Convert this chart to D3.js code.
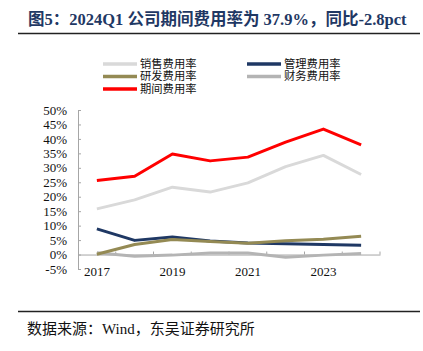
<!DOCTYPE html>
<html>
<head>
<meta charset="utf-8">
<script src="https://cdn.jsdelivr.net/npm/d3@7"></script>
<style>
  body { margin: 0; background: #fff; }
  svg { display: block; }
  .serif { font-family: "Liberation Serif", "Noto Sans CJK SC", serif; }
</style>
</head>
<body>
<svg id="chart"></svg>
<script>
var svgWidth = 423;
var svgHeight = 351;

// data
var years = ["2017", "2018", "2019", "2020", "2021", "2022", "2023", "2024Q1"];
var tickYears = ["2017", "2019", "2021", "2023"];
var sales = [15.8, 18.9, 23.3, 21.6, 24.8, 30.4, 34.3, 27.7];   // 销售费用率
var admin = [8.9, 4.9, 6.1, 4.7, 4.0, 3.7, 3.5, 3.2];           // 管理费用率
var rnd = [0.1, 3.5, 5.2, 4.5, 3.9, 4.8, 5.3, 6.3];             // 研发费用率
var finance = [0.6, -0.6, -0.2, 0.5, 0.5, -0.9, -0.2, 0.4];     // 财务费用率
var period = [25.6, 27.1, 34.8, 32.4, 33.7, 38.9, 43.4, 37.9];  // 期间费用率
var yTicks = [-5, 0, 5, 10, 15, 20, 25, 30, 35, 40, 45, 50];

var series = [
  { name: "销售费用率", values: sales, color: "#d9d9d9" },
  { name: "管理费用率", values: admin, color: "#1f3864" },
  { name: "研发费用率", values: rnd, color: "#948a54" },
  { name: "财务费用率", values: finance, color: "#b4b4b4" },
  { name: "期间费用率", values: period, color: "#ff0000" }
];

var svg = d3.select("#chart")
  .attr("width", svgWidth)
  .attr("height", svgHeight);

// title
svg.append("text")
  .attr("class", "serif")
  .attr("x", 28)
  .attr("y", 25)
  .attr("fill", "#1f3864")
  .style("font-size", "16.5px")
  .style("font-weight", "bold")
  .text("图5：2024Q1 公司期间费用率为 37.9%，同比-2.8pct");

svg.append("line")
  .attr("x1", 18).attr("x2", 420)
  .attr("y1", 33.5).attr("y2", 33.5)
  .attr("stroke", "#222").attr("stroke-width", 1.5);

// legend
var legendPos = [
  [103, 64], [247, 64],
  [103, 76.5], [247, 76.5],
  [103, 89]
];
var legend = svg.append("g");
series.forEach(function(s, i) {
  var p = legendPos[i];
  legend.append("line")
    .attr("x1", p[0]).attr("x2", p[0] + 34)
    .attr("y1", p[1]).attr("y2", p[1])
    .attr("stroke", s.color).attr("stroke-width", 3.5);
  legend.append("text")
    .attr("x", p[0] + 37)
    .attr("y", p[1])
    .attr("dy", "0.35em")
    .style("font-family", "'Noto Sans CJK SC', sans-serif")
    .style("font-size", "11.3px")
    .attr("fill", "#111")
    .text(s.name);
});

// scales
var x = d3.scaleBand().domain(years).range([78, 380]);
var y = d3.scaleLinear().domain([-5, 50]).range([269, 110]);

// y axis
var yAxis = svg.append("g")
  .attr("transform", "translate(78,0)")
  .call(d3.axisLeft(y).tickValues(yTicks).tickSize(-3).tickPadding(11)
    .tickFormat(function(d) { return d + "%"; }));
yAxis.select(".domain").attr("stroke", "#a6a6a6");
yAxis.selectAll(".tick line").attr("stroke", "#a6a6a6");
yAxis.selectAll("text")
  .attr("class", "serif")
  .style("font-size", "13px")
  .attr("fill", "#111");

// x axis at 0%
var xAxis = svg.append("g")
  .attr("transform", "translate(0," + y(0) + ")")
  .call(d3.axisBottom(x).tickSize(0).tickFormat(function(d) {
    return tickYears.indexOf(d) >= 0 ? d : "";
  }));
xAxis.select(".domain").attr("stroke", "#a6a6a6");
xAxis.selectAll("text")
  .attr("class", "serif")
  .attr("y", 12)
  .style("font-size", "13px")
  .attr("fill", "#111");

// tick marks between categories, pointing up
var bounds = years.map(function(d) { return x(d); }).concat([x.range()[1]]);
svg.append("g").selectAll("line")
  .data(bounds.slice(1))
  .enter()
  .append("line")
  .attr("x1", function(d) { return d; })
  .attr("x2", function(d) { return d; })
  .attr("y1", y(0))
  .attr("y2", y(0) - 3)
  .attr("stroke", "#a6a6a6");

// lines
var line = d3.line()
  .x(function(d, i) { return x(years[i]) + x.bandwidth() / 2; })
  .y(function(d) { return y(d); });

var drawOrder = [3, 0, 1, 2, 4];
drawOrder.forEach(function(si) {
  svg.append("path")
    .datum(series[si].values)
    .attr("fill", "none")
    .attr("stroke", series[si].color)
    .attr("stroke-width", 3)
    .attr("stroke-linejoin", "round")
    .attr("d", line);
});

// footer
svg.append("line")
  .attr("x1", 18).attr("x2", 420)
  .attr("y1", 311.5).attr("y2", 311.5)
  .attr("stroke", "#222").attr("stroke-width", 1.5);

svg.append("text")
  .attr("class", "serif")
  .attr("x", 27)
  .attr("y", 333.5)
  .style("font-size", "15px")
  .attr("fill", "#111")
  .text("数据来源：Wind，东吴证券研究所");
</script>
</body>
</html>
